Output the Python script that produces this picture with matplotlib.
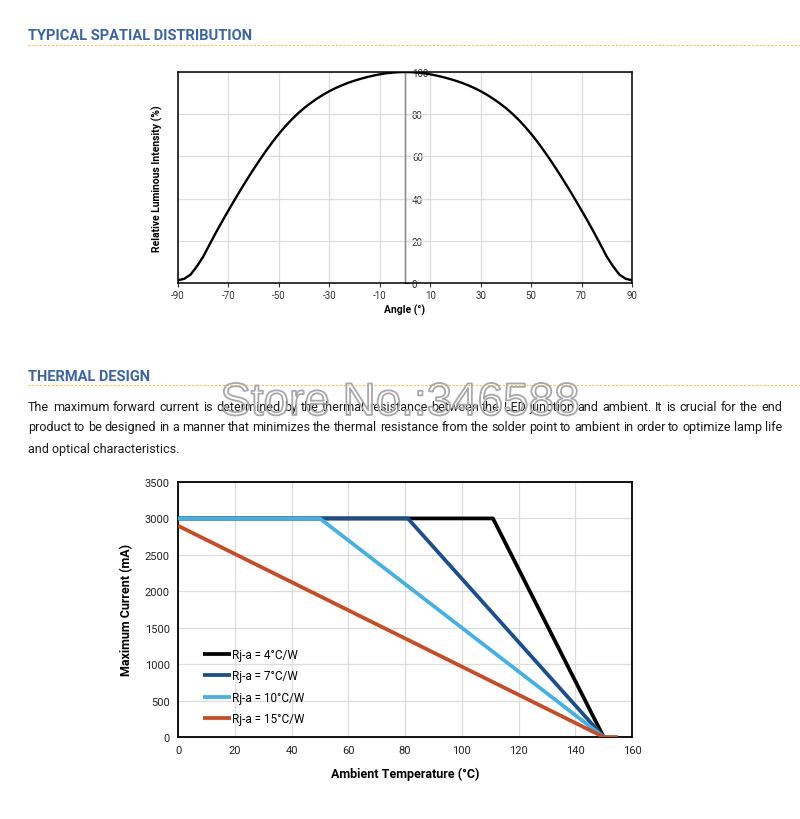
import matplotlib.pyplot as plt
import matplotlib.patheffects as pe
from matplotlib.lines import Line2D

# spatial distribution (angle in degrees, relative intensity in %)
angle = [-90, -87.5, -85, -82.5, -80, -77.5, -75, -72.5, -70, -67.5, -65, -62.5, -60, -57.5,
         -55, -52.5, -50, -47.5, -45, -42.5, -40, -37.5, -35, -32.5, -30, -27.5, -25, -22.5,
         -20, -17.5, -15, -12.5, -10, -7.5, -5, -2.5, 0,
         2.5, 5, 7.5, 10, 12.5, 15, 17.5, 20, 22.5, 25, 27.5, 30, 32.5, 35, 37.5, 40, 42.5,
         45, 47.5, 50, 52.5, 55, 57.5, 60, 62.5, 65, 67.5, 70, 72.5, 75, 77.5, 80, 82.5,
         85, 87.5, 90]
intensity = [1.3, 2, 4, 7.9, 12.5, 18.2, 23.8, 29.2, 34.4, 39.5, 44.5, 49.3, 54, 58.5,
             62.8, 66.9, 70.7, 74.2, 77.4, 80.3, 82.9, 85.2, 87.3, 89.2, 90.9, 92.4, 93.7, 94.9,
             95.9, 96.8, 97.6, 98.3, 98.9, 99.4, 99.7, 99.93, 100,
             99.93, 99.7, 99.4, 98.9, 98.3, 97.6, 96.8, 95.9, 94.9, 93.7, 92.4, 90.9, 89.2, 87.3, 85.2, 82.9, 80.3,
             77.4, 74.2, 70.7, 66.9, 62.8, 58.5, 54, 49.3, 44.5, 39.5, 34.4, 29.2, 23.8, 18.2, 12.5, 7.9,
             4, 2, 1.3]
angle_ticks = [-90, -70, -50, -30, -10, 10, 30, 50, 70, 90]
pct_ticks = [0, 20, 40, 60, 80, 100]

# thermal derating curves
series_names = ['Rj-a = 4°C/W', 'Rj-a = 7°C/W', 'Rj-a = 10°C/W', 'Rj-a = 15°C/W']
temp = [[0, 111, 150],
        [0, 81, 150],
        [0, 50, 150],
        [0, 150, 155]]
current = [[3000, 3000, 0],
           [3000, 3000, 0],
           [3000, 3000, 0],
           [2900, 0, 0]]
colors = ['#000000', '#1a4e8c', '#41b1e6', '#cc4a1f']
temp_ticks = list(range(0, 161, 20))
current_ticks = list(range(0, 3501, 500))

paragraph = ["The maximum forward current is determined by the thermal resistance between the LED junction and ambient. It is crucial for the end",
             "product to be designed in a manner that minimizes the thermal resistance from the solder point to ambient in order to optimize lamp life",
             "and optical characteristics."]

plt.rcParams['font.family'] = ['Roboto', 'DejaVu Sans']
plt.rcParams['axes.unicode_minus'] = False

W, H = 800, 820
fig = plt.figure(figsize=(8, 8.2), dpi=100)
fig.patch.set_facecolor('white')

def fx(px):
    return px / W

def fy(py):
    return 1 - py / H

head_col = '#3b64a6'
dash_col = '#f0c846'

def header(text, ypx, linepx):
    fig.text(fx(28), fy(ypx), text, fontsize=10.5, fontweight='bold', color=head_col, va='center', ha='left')
    fig.add_artist(Line2D([fx(28), 1.0], [fy(linepx), fy(linepx)], transform=fig.transFigure,
                          color=dash_col, lw=0.8, ls=(0, (2, 1.5))))

header('TYPICAL SPATIAL DISTRIBUTION', 36, 46)
header('THERMAL DESIGN', 377, 386)

# ---- top chart
ax1 = fig.add_axes([fx(178), fy(284), fx(632) - fx(178), fy(73) - fy(284)])
ax1.plot(angle, intensity, color='black', lw=1.7, zorder=3, solid_joinstyle='round')
ax1.set_xlim(-90, 90)
ax1.set_ylim(0, 100)
ax1.set_xticks(angle_ticks)
ax1.set_yticks(pct_ticks)
ax1.tick_params(axis='y', left=False, labelleft=False)
ax1.tick_params(axis='x', length=3, labelsize=7, colors='#333333', pad=2)
ax1.grid(True, color='#dddddd', lw=0.9)
for s in ax1.spines.values():
    s.set_linewidth(1.1)
ax1.axvline(0, color='#8a8a8a', lw=1.0, zorder=2)
sec = ax1.secondary_yaxis(0.5)
sec.set_yticks(pct_ticks)
sec.tick_params(length=3, labelsize=7, colors='#333333', pad=2)
sec.spines['left'].set_visible(False)
for lbl in sec.get_yticklabels():
    lbl.set_bbox(dict(facecolor='white', edgecolor='none', pad=0.6))
ax1.set_xlabel('Angle (°)', fontsize=7.5, fontweight='bold', labelpad=3)
ax1.set_ylabel('Relative Luminous Intensity (%)', fontsize=7.5, fontweight='bold', labelpad=11)

# ---- paragraph (justified)
fig.canvas.draw()
renderer = fig.canvas.get_renderer()
x0, x1 = 28, 782
line_y = [408, 428, 449]
fs = 9
for i, line in enumerate(paragraph):
    words = line.split(' ')
    if i < len(paragraph) - 1:
        arts = [fig.text(0, fy(line_y[i]), w, fontsize=fs, color='#1a1a1a', va='center', ha='left') for w in words]
        widths = [a.get_window_extent(renderer).width for a in arts]
        gap = (x1 - x0 - sum(widths)) / (len(words) - 1)
        pos = x0
        for a, w in zip(arts, widths):
            a.set_x(fx(pos))
            pos += w + gap
    else:
        fig.text(fx(x0), fy(line_y[i]), line, fontsize=fs, color='#1a1a1a', va='center', ha='left')

# watermark (outline only)
fig.text(0.5, fy(404), 'Store No.:346588', fontsize=33, family='Liberation Sans', color=(1, 1, 1, 0),
         ha='center', va='center', zorder=10,
         path_effects=[pe.Stroke(linewidth=1.3, foreground='#a8a8a8')])

# ---- bottom chart
ax2 = fig.add_axes([fx(178), fy(738), fx(632) - fx(178), fy(483) - fy(738)])
for t, c, col, name in zip(temp, current, colors, series_names):
    ax2.plot(t, c, color=col, lw=2.7, label=name, solid_capstyle='butt', zorder=3)
ax2.set_xlim(0, 160)
ax2.set_ylim(0, 3500)
ax2.set_xticks(temp_ticks)
ax2.set_yticks(current_ticks)
ax2.tick_params(length=0, labelsize=8, colors='#222222', pad=6)
ax2.grid(True, color='#dddddd', lw=0.9)
for s in ax2.spines.values():
    s.set_linewidth(1.3)
ax2.set_xlabel('Ambient Temperature (°C)', fontsize=9, fontweight='bold', labelpad=8)
ax2.set_ylabel('Maximum Current (mA)', fontsize=9, fontweight='bold', labelpad=8)
ax2.legend(loc='upper left', bbox_to_anchor=(0.055, 0.35), frameon=False, fontsize=8.5,
           handlelength=2.4, handletextpad=0.1, labelspacing=0.72, borderpad=0, borderaxespad=0)

fig.savefig('out.png', dpi=100, facecolor='white')
